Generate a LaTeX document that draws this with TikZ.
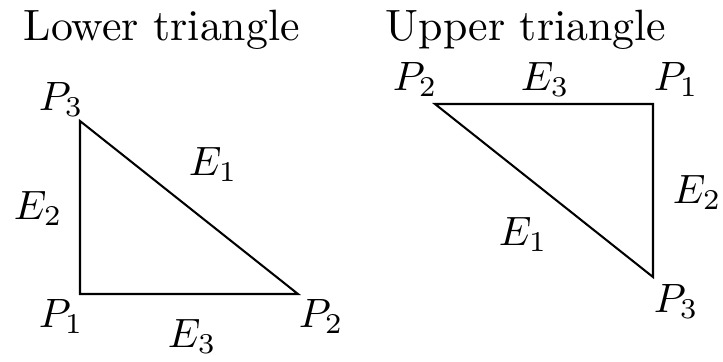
\documentclass[tikz,border=0pt]{standalone}
\begin{document}
\begin{tikzpicture}[x=0.244pt,y=-0.244pt,
  lbl/.style={inner sep=0pt, anchor=base west, font=\fontsize{10}{12}\selectfont},
  ttl/.style={lbl, font=\fontsize{10.7}{13}\selectfont},
  edge/.style={line width=0.5pt, draw=black}]
\useasboundingbox (0,0) rectangle (723,361);
% lower triangle
\coordinate (L3) at (80,121);
\coordinate (L1) at (80,294);
\coordinate (L2) at (298,294);
\draw[edge] (L3) -- (L1) -- (L2) -- cycle;
\node[ttl] (tl) at (23,40) {Lower triangle};
\node[lbl] (lp3) at (38,110) {$P_3$};
\node[lbl] (le1) at (188,175) {$E_1$};
\node[lbl] (le2) at (13,219) {$E_2$};
\node[lbl] (lp1) at (38,327) {$P_1$};
\node[lbl] (le3) at (167,347) {$E_3$};
\node[lbl] (lp2) at (298,327) {$P_2$};
% upper triangle
\coordinate (U2) at (435,104);
\coordinate (U1) at (653,104);
\coordinate (U3) at (653,277);
\draw[edge] (U2) -- (U1) -- (U3) -- cycle;
\node[ttl] (tu) at (385,40) {Upper triangle};
\node[lbl] (up2) at (392,90) {$P_2$};
\node[lbl] (ue3) at (520,90) {$E_3$};
\node[lbl] (up1) at (653,90) {$P_1$};
\node[lbl] (ue2) at (672,203) {$E_2$};
\node[lbl] (ue1) at (498,245) {$E_1$};
\node[lbl] (up3) at (653,312) {$P_3$};
\end{tikzpicture}
\end{document}
